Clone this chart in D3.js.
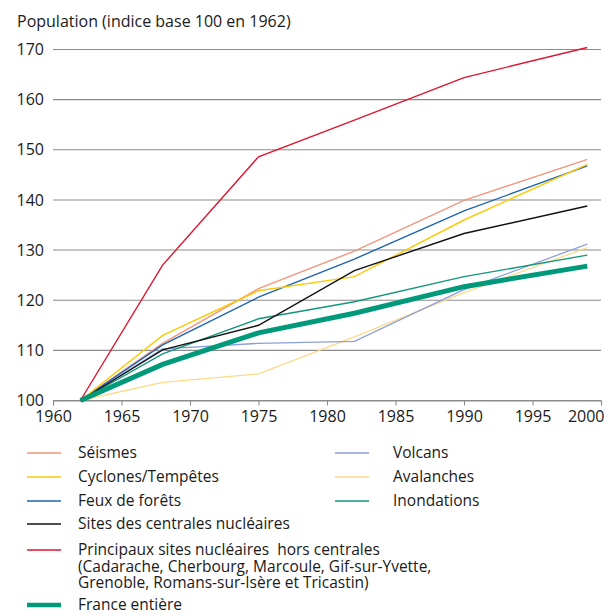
<!DOCTYPE html>
<html>
<head>
<meta charset="utf-8">
<script src="https://cdn.jsdelivr.net/npm/d3@7"></script>
<style>
  html, body { margin: 0; padding: 0; background: #fff; }
  svg { display: block; }
  text { font-family: "Open Sans", "Noto Sans", sans-serif; fill: #1a1a1a; }
</style>
</head>
<body>
<svg id="chart" width="604" height="615"></svg>
<script>
// Census years
const years = [1962, 1968, 1975, 1982, 1990, 1999];

// Population index (base 100 in 1962) for each risk zone
const seismes      = [100, 111.4, 122.3, 129.8, 139.9, 148.1];
const cyclones     = [100, 113.0, 121.9, 124.7, 136.0, 147.1];
const feux         = [100, 111.1, 120.6, 128.2, 137.8, 146.8];
const centrales    = [100, 110.1, 115.0, 125.9, 133.3, 138.8];
const horsCentrales= [100, 127.0, 148.6, 155.9, 164.4, 170.4];
const volcans      = [100, 110.3, 111.4, 111.8, 122.1, 131.2];
const avalanches   = [100, 103.6, 105.3, 112.7, 121.5, 130.5];
const inondations  = [100, 109.3, 116.3, 119.7, 124.7, 129.0];
const france       = [100, 107.2, 113.5, 117.4, 122.7, 126.8];

const xTicks = [1960, 1965, 1970, 1975, 1980, 1985, 1990, 1995, 2000];
const yTicks = [100, 110, 120, 130, 140, 150, 160, 170];

const series = [
  { name: "Avalanches", values: avalanches, color: "#fdd98a", width: 1.3 },
  { name: "Volcans", values: volcans, color: "#8d9fd8", width: 1.3 },
  { name: "Inondations", values: inondations, color: "#13977c", width: 1.4 },
  { name: "Séismes", values: seismes, color: "#f2967c", width: 1.4 },
  { name: "Feux de forêts", values: feux, color: "#1c64b2", width: 1.4 },
  { name: "Cyclones/Tempêtes", values: cyclones, color: "#fcca0a", width: 1.5 },
  { name: "Sites des centrales nucléaires", values: centrales, color: "#111111", width: 1.4 },
  { name: "Principaux sites nucléaires hors centrales", values: horsCentrales, color: "#de1530", width: 1.4 },
  { name: "France entière", values: france, color: "#009a7b", width: 5 }
];

const svg = d3.select("#chart");

const x = d3.scaleLinear().domain([1960, 2000]).range([53, 601]);
const y = d3.scaleLinear().domain([100, 170]).range([400.5, 49.5]);

const FONT = "\"Open Sans\", \"Noto Sans\", sans-serif";

// Title of the value axis
svg.append("text")
  .attr("x", 17).attr("y", 27)
  .attr("font-size", 16)
  .text("Population (indice base 100 en 1962)");

// Horizontal grid lines with labels on the left
const grid = svg.append("g");
grid.selectAll("line")
  .data(yTicks)
  .join("line")
  .attr("x1", x(1960)).attr("x2", x(2000))
  .attr("y1", d => y(d)).attr("y2", d => y(d))
  .attr("stroke", "#8c8c8c").attr("stroke-width", 1.1);

grid.selectAll("text")
  .data(yTicks)
  .join("text")
  .attr("x", 44).attr("y", d => y(d))
  .attr("dy", "0.35em")
  .attr("text-anchor", "end")
  .attr("font-size", 16)
  .text(d => d);

// Time axis along the base line
const xAxis = d3.axisBottom(x)
  .tickValues(xTicks)
  .tickFormat(d3.format("d"))
  .tickSize(5)
  .tickPadding(5);

const gx = svg.append("g")
  .attr("transform", `translate(0,${y(100)})`)
  .call(xAxis);
gx.select(".domain").attr("stroke", "#8c8c8c").attr("stroke-width", 1.1);
gx.selectAll(".tick line").attr("stroke", "#8c8c8c").attr("stroke-width", 1.1);
gx.selectAll(".tick text")
  .attr("font-size", 16)
  .attr("font-family", FONT)
  .attr("fill", "#1a1a1a");
// keep the last year label inside the frame
gx.selectAll(".tick text")
  .filter(d => d === 2000)
  .attr("text-anchor", "end")
  .attr("x", 3);

// Series lines
const line = d3.line()
  .x((d, i) => x(years[i]))
  .y(d => y(d));

svg.append("g")
  .selectAll("path")
  .data(series)
  .join("path")
  .attr("d", d => line(d.values))
  .attr("fill", "none")
  .attr("stroke", d => d.color)
  .attr("stroke-width", d => d.width)
  .attr("stroke-linejoin", "miter");

// Legend
const byName = Object.fromEntries(series.map(s => [s.name, s]));
const legendItems = [
  { key: "Séismes", col: 0, y: 453, lines: ["Séismes"] },
  { key: "Cyclones/Tempêtes", col: 0, y: 477, lines: ["Cyclones/Tempêtes"] },
  { key: "Feux de forêts", col: 0, y: 501, lines: ["Feux de forêts"] },
  { key: "Sites des centrales nucléaires", col: 0, y: 524, lines: ["Sites des centrales nucléaires"] },
  { key: "Principaux sites nucléaires hors centrales", col: 0, y: 550,
    lines: ["Principaux sites nucléaires  hors centrales",
            "(Cadarache, Cherbourg, Marcoule, Gif-sur-Yvette,",
            "Grenoble, Romans-sur-Isère et Tricastin)"] },
  { key: "France entière", col: 0, y: 605, lines: ["France entière"] },
  { key: "Volcans", col: 1, y: 453, lines: ["Volcans"] },
  { key: "Avalanches", col: 1, y: 477, lines: ["Avalanches"] },
  { key: "Inondations", col: 1, y: 501, lines: ["Inondations"] }
];
const cols = [
  { x1: 27, x2: 61, tx: 78 },
  { x1: 335, x2: 369, tx: 393 }
];

const legend = svg.append("g");
legendItems.forEach(item => {
  const s = byName[item.key];
  const c = cols[item.col];
  legend.append("line")
    .attr("x1", c.x1).attr("x2", c.x2)
    .attr("y1", item.y).attr("y2", item.y)
    .attr("stroke", s.color)
    .attr("stroke-width", s.width === 5 ? 4.5 : 1.6);
  const t = legend.append("text")
    .attr("x", c.tx).attr("y", item.y)
    .attr("font-size", 15.5);
  item.lines.forEach((ln, i) => {
    t.append("tspan")
      .attr("x", c.tx)
      .attr("dy", i === 0 ? "0.35em" : 16.5)
      .style("white-space", "pre")
      .text(ln);
  });
});
</script>
</body>
</html>
